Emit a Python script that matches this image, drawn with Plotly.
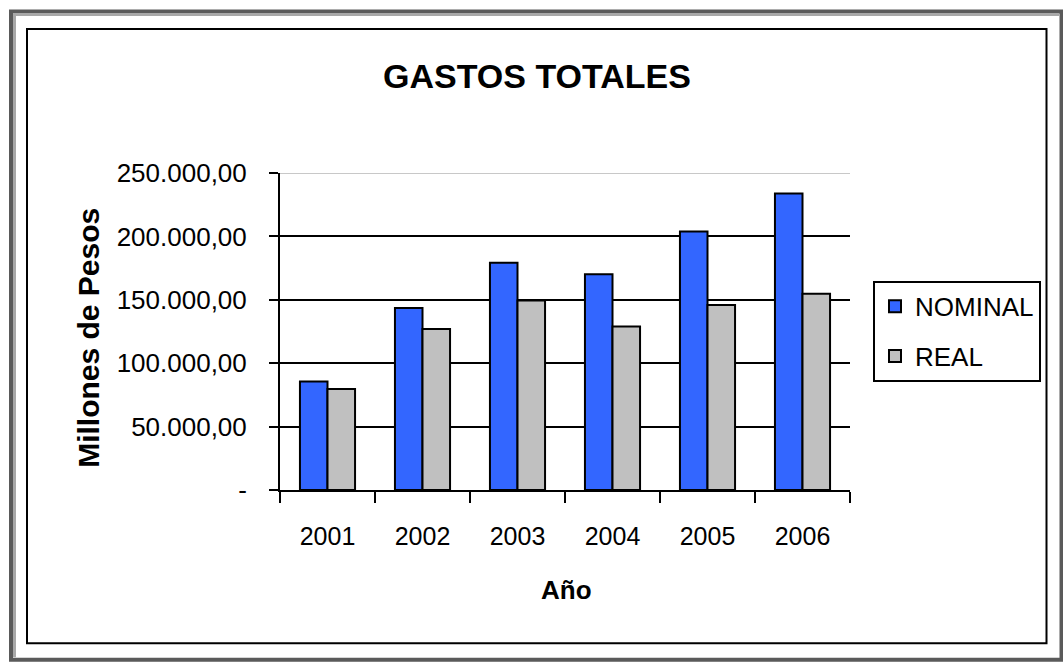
import plotly.graph_objects as go

years = ["2001", "2002", "2003", "2004", "2005", "2006"]
nominal = [85600, 143500, 179300, 170100, 203800, 233800]
real = [79600, 127000, 149500, 129000, 145900, 154800]
y_tickvals = [0, 50000, 100000, 150000, 200000, 250000]
y_ticktext = ["-", "50.000,00", "100.000,00", "150.000,00", "200.000,00", "250.000,00"]

W, H = 1063, 662
ML, MR, MT, MB = 280, 213, 173.3, 172
PW, PH = W - ML - MR, H - MT - MB


def px(x):
    return (x - ML) / PW


def py(y):
    return 1 - (y - MT) / PH


FONT = "Liberation Sans, Arial, sans-serif"

fig = go.Figure()
fig.add_trace(go.Bar(name="NOMINAL", x=years, y=nominal, legendgroup="n",
                     marker=dict(color="#3366FF", line=dict(color="black", width=2))))
fig.add_trace(go.Bar(name="REAL", x=years, y=real, legendgroup="r",
                     marker=dict(color="#C0C0C0", line=dict(color="black", width=2))))

shapes = []
# outer 3D-like frame
shapes.append(dict(type="rect", xref="paper", yref="paper", x0=px(11), x1=px(1061.5), y0=py(12), y1=py(659.5),
                   line=dict(color="#5a5a5a", width=4), layer="below"))
shapes.append(dict(type="line", xref="paper", yref="paper", x0=px(14.5), x1=px(14.5), y0=py(14), y1=py(657),
                   line=dict(color="#a8a8a8", width=3), layer="below"))
shapes.append(dict(type="line", xref="paper", yref="paper", x0=px(14), x1=px(1059), y0=py(15), y1=py(15),
                   line=dict(color="#a8a8a8", width=3), layer="below"))
# inner black frame
shapes.append(dict(type="rect", xref="paper", yref="paper", x0=px(27), x1=px(1046.5), y0=py(29.5), y1=py(643),
                   line=dict(color="black", width=2), layer="below"))
# light top gridline
shapes.append(dict(type="line", xref="paper", yref="y", x0=0, x1=1, y0=250000, y1=250000,
                   line=dict(color="#C8C8C8", width=2), layer="above"))
fig.update_layout(shapes=shapes)

fig.update_layout(
    width=W, height=H,
    margin=dict(l=ML, r=MR, t=MT, b=MB, autoexpand=False),
    paper_bgcolor="white", plot_bgcolor="white",
    barmode="group", bargap=0.42, bargroupgap=0,
    font=dict(family=FONT, color="black"),
    showlegend=True,
    legend=dict(x=px(873), y=py(281), xanchor="left", yanchor="top",
                bordercolor="black", borderwidth=2, bgcolor="white",
                traceorder="grouped", tracegroupgap=13,
                font=dict(size=26, family=FONT, color="black"), itemwidth=30),
    annotations=[
        dict(text="<b>GASTOS TOTALES</b>", xref="paper", yref="paper", x=px(536.5), y=py(76),
             xanchor="center", yanchor="middle", showarrow=False, font=dict(size=34, family=FONT)),
        dict(text="<b>Año</b>", xref="paper", yref="paper", x=px(566), y=py(590),
             xanchor="center", yanchor="middle", showarrow=False, font=dict(size=26, family=FONT)),
        dict(text="<b>Millones de Pesos</b>", xref="paper", yref="paper", x=px(89), y=py(338),
             xanchor="center", yanchor="middle", showarrow=False, textangle=-90,
             font=dict(size=30, family=FONT)),
    ],
)

fig.update_xaxes(
    type="category", showline=True, linecolor="black", linewidth=2,
    ticks="outside", tickson="boundaries", ticklen=11, tickwidth=2, tickcolor="black",
    showgrid=False, tickfont=dict(size=25, family=FONT), ticklabelstandoff=23,
)
fig.update_yaxes(
    range=[0, 250000], tickvals=y_tickvals, ticktext=y_ticktext,
    showline=True, linecolor="black", linewidth=2,
    ticks="outside", ticklen=9, tickwidth=2, tickcolor="black",
    showgrid=True, gridcolor="black", gridwidth=2, zeroline=False,
    tickfont=dict(size=26, family=FONT), ticklabelstandoff=17,
)

fig.write_html("out.html")
